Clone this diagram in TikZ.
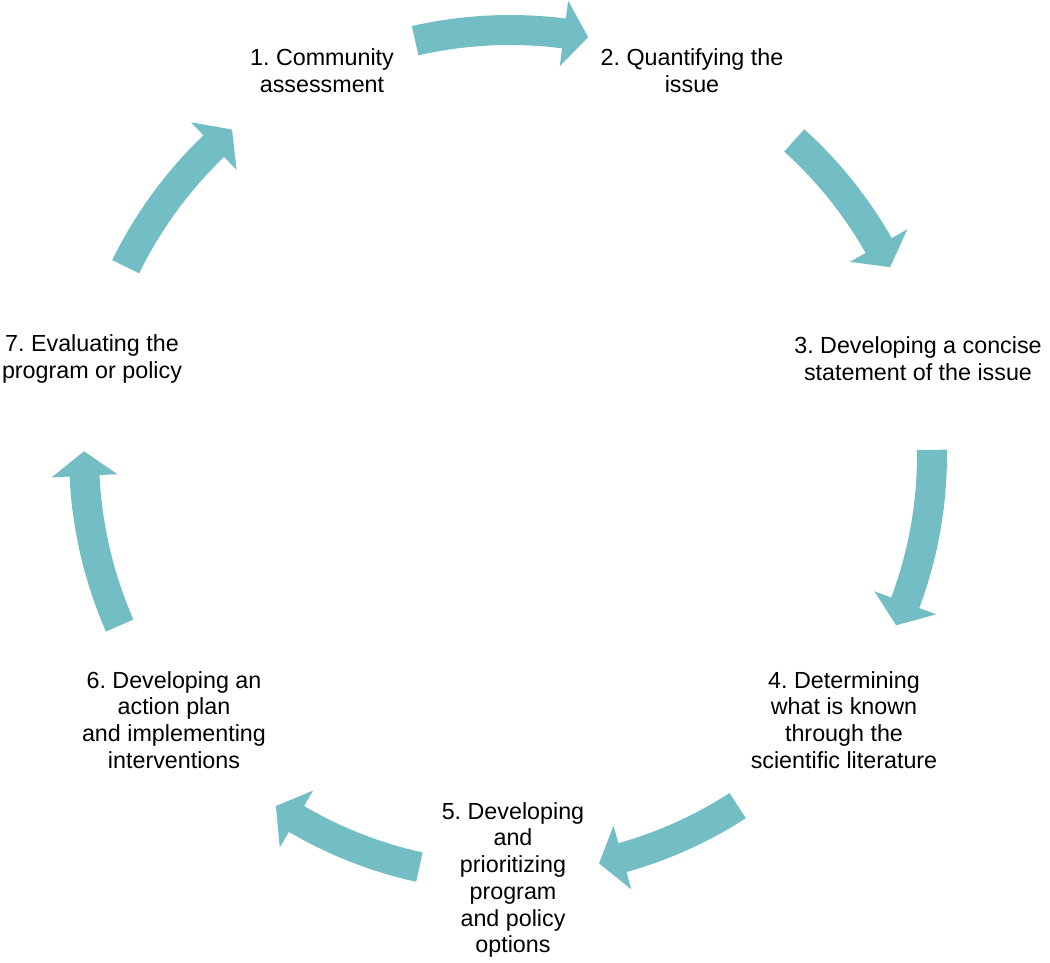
\documentclass[tikz,border=0pt]{standalone}
\usepackage{fontspec}
\setmainfont{Liberation Sans}
\frenchspacing
\definecolor{cycteal}{RGB}{115,190,196}
\tikzset{
  cyc/.style={fill=cycteal},
  lbl/.style={align=center, inner sep=0pt, font=\fontsize{23.3}{26.7}\selectfont}
}
\newcommand\cycarrow[3]{%
  \pgfmathsetmacro\ro{#3+15}\pgfmathsetmacro\ri{#3-15}%
  \pgfmathsetmacro\hbo{#3+33}\pgfmathsetmacro\hbi{#3-33}%
  \pgfmathsetmacro\hb{#2+3.3}%
  \fill[cyc] (#1:\ro pt) arc[start angle=#1, end angle=\hb, radius=\ro pt]
    -- (\hb:\hbo pt) -- (#2:#3 pt) -- (\hb:\hbi pt) -- (\hb:\ri pt)
    arc[start angle=\hb, end angle=#1, radius=\ri pt] -- cycle;}
\begin{document}
\begin{tikzpicture}[x=1pt,y=1pt]
\useasboundingbox (0,0) rectangle (1050,962);
% labels
\node[lbl] (n1) at (322,891) {1. Community\\assessment};
\node[lbl] (n2) at (692,891) {2. Quantifying the\\issue};
\node[lbl] (n3) at (918,603) {3. Developing a concise\\statement of the issue};
\node[lbl] (n4) at (844,242) {4. Determining\\what is known\\through the\\scientific literature};
\node[lbl] (n5) at (513,82) {5. Developing\\and\\prioritizing\\program\\and policy\\options};
\node[lbl] (n6) at (174,242) {6. Developing an\\action plan\\and implementing\\interventions};
\node[lbl] (n7) at (92,603) {7. Evaluating the\\program or policy};
% cycle arrows
\begin{scope}[shift={(510,507)}]
  \cycarrow{102.9}{79.4}{425}
  \cycarrow{47.9}{26.3}{424}
  \cycarrow{0.7}{-23.8}{422}
  \cycarrow{-57.0}{-77.7}{418}
  \cycarrow{-102.4}{-123.7}{422}
  \cycarrow{203.6}{179.5}{426}
  \cycarrow{153.9}{130.5}{428}
\end{scope}
\end{tikzpicture}
\end{document}
